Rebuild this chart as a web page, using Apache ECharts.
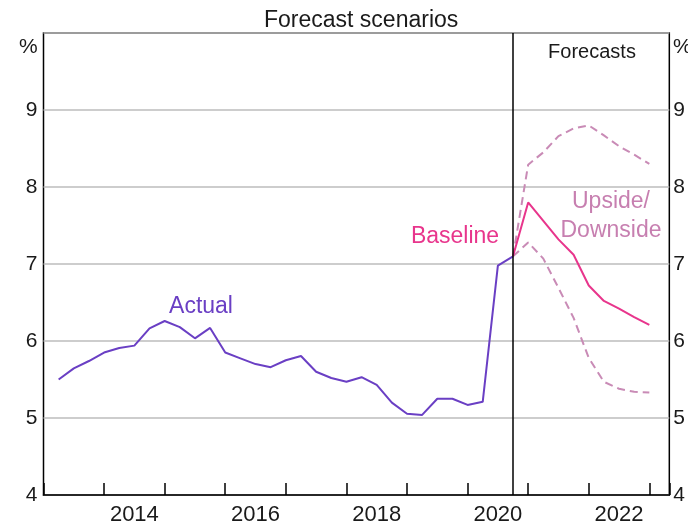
<!DOCTYPE html>
<html>
<head>
<meta charset="utf-8">
<script src="https://cdn.jsdelivr.net/npm/echarts@6/dist/echarts.min.js"></script>
<style>
  html, body { margin: 0; padding: 0; background: #fff; }
  #chart { width: 688px; height: 530px; }
</style>
</head>
<body>
<div id="chart"></div>
<script>
// ---- Data ----
const actualDates = [2013.25, 2013.5, 2013.75, 2014.0, 2014.25, 2014.5, 2014.75, 2015.0, 2015.25, 2015.5, 2015.75,
  2016.0, 2016.25, 2016.5, 2016.75, 2017.0, 2017.25, 2017.5, 2017.75, 2018.0, 2018.25, 2018.5, 2018.75,
  2019.0, 2019.25, 2019.5, 2019.75, 2020.0, 2020.25, 2020.5, 2020.75];
const actualValues = [5.50, 5.645, 5.74, 5.85, 5.91, 5.94, 6.165, 6.26, 6.18, 6.035, 6.17,
  5.85, 5.775, 5.70, 5.66, 5.75, 5.805, 5.60, 5.52, 5.47, 5.53, 5.43, 5.20,
  5.055, 5.04, 5.25, 5.25, 5.17, 5.21, 6.98, 7.10];

const forecastDates = [2020.75, 2021.0, 2021.25, 2021.5, 2021.75, 2022.0, 2022.25, 2022.5, 2022.75, 2023.0];
const baselineValues = [7.10, 7.80, 7.56, 7.32, 7.12, 6.72, 6.52, 6.42, 6.31, 6.21];
const upsideValues   = [7.10, 8.29, 8.45, 8.66, 8.76, 8.80, 8.67, 8.53, 8.42, 8.30];
const downsideValues = [7.10, 7.28, 7.07, 6.69, 6.30, 5.78, 5.47, 5.38, 5.34, 5.33];

const forecastStart = 2020.75;
const xLabels = ['2014', '2016', '2018', '2020', '2022'];
const yTicks = [4, 5, 6, 7, 8, 9];

// ---- Chart ----
const FONT = 'Liberation Sans, Arial, sans-serif';
const chart = echarts.init(document.getElementById('chart'), null, { renderer: 'canvas' });

const pair = (xs, ys) => xs.map((x, i) => [x, ys[i]]);
const labelPos = xLabels.map(s => Number(s) + 0.5);

const option = {
  animation: false,
  backgroundColor: '#ffffff',
  title: {
    text: 'Forecast scenarios',
    left: 259,
    top: 4,
    textStyle: { fontFamily: FONT, fontSize: 23, fontWeight: 'normal', color: '#1a1a1a' }
  },
  grid: {
    left: 43.5, right: 18, top: 33, bottom: 35,
    show: true, borderColor: '#000', borderWidth: 1.5, backgroundColor: 'transparent'
  },
  xAxis: {
    type: 'value',
    min: 2013,
    max: 2023.33,
    interval: 1,
    axisLine: { show: true, lineStyle: { color: '#000', width: 1.5 } },
    axisTick: { show: true, inside: true, length: 12, lineStyle: { color: '#000', width: 1.5 } },
    splitLine: { show: false },
    axisLabel: {
      customValues: labelPos,
      formatter: v => {
        const k = labelPos.findIndex(p => Math.abs(p - v) < 1e-6);
        return k >= 0 ? xLabels[k] : '';
      },
      fontFamily: FONT, fontSize: 22, color: '#1a1a1a', margin: 9
    }
  },
  yAxis: [
    {
      type: 'value', position: 'left', min: 4, max: 10, interval: 1,
      axisLine: { show: false }, axisTick: { show: false },
      splitLine: { show: true, lineStyle: { color: '#bdbdbd', width: 1.5 } },
      axisLabel: {
        formatter: v => (yTicks.indexOf(v) >= 0 ? String(v) : ''),
        fontFamily: FONT, fontSize: 21, color: '#1a1a1a', margin: 6
      }
    },
    {
      type: 'value', position: 'right', min: 4, max: 10, interval: 1,
      axisLine: { show: false }, axisTick: { show: false },
      splitLine: { show: false },
      axisLabel: {
        formatter: v => (yTicks.indexOf(v) >= 0 ? String(v) : ''),
        fontFamily: FONT, fontSize: 21, color: '#1a1a1a', margin: 4
      }
    }
  ],
  series: [
    {
      name: 'Actual', type: 'line', data: pair(actualDates, actualValues),
      showSymbol: false, symbol: 'none',
      lineStyle: { color: '#6a3fc4', width: 2 },
      z: 3,
      markLine: {
        silent: true, symbol: ['none', 'none'], label: { show: false },
        lineStyle: { color: '#000', width: 1.5, type: 'solid' },
        data: [{ xAxis: forecastStart }]
      }
    },
    {
      name: 'Upside', type: 'line', data: pair(forecastDates, upsideValues),
      showSymbol: false, symbol: 'none',
      lineStyle: { color: '#c98bb6', width: 2, type: [8, 5] }, z: 2
    },
    {
      name: 'Downside', type: 'line', data: pair(forecastDates, downsideValues),
      showSymbol: false, symbol: 'none',
      lineStyle: { color: '#c98bb6', width: 2, type: [8, 5] }, z: 2
    },
    {
      name: 'Baseline', type: 'line', data: pair(forecastDates, baselineValues),
      showSymbol: false, symbol: 'none',
      lineStyle: { color: '#e8358c', width: 2 }, z: 4
    }
  ],
  graphic: [
    { type: 'text', left: 19, top: 37, style: { text: '%', font: '21px ' + FONT, fill: '#1a1a1a' } },
    { type: 'text', left: 673, top: 37, style: { text: '%', font: '21px ' + FONT, fill: '#1a1a1a' } },
    { type: 'text', x: 592, y: 52, style: { text: 'Forecasts', font: '20px ' + FONT, fill: '#1a1a1a', align: 'center', verticalAlign: 'middle' } },
    { type: 'text', x: 201, y: 307, style: { text: 'Actual', font: '23px ' + FONT, fill: '#6a3fc4', align: 'center', verticalAlign: 'middle' } },
    { type: 'text', x: 455, y: 237, style: { text: 'Baseline', font: '23px ' + FONT, fill: '#e8358c', align: 'center', verticalAlign: 'middle' } },
    { type: 'text', x: 611, y: 216, style: { text: 'Upside/\nDownside', font: '23px ' + FONT, fill: '#c77fb0', align: 'center', verticalAlign: 'middle', lineHeight: 29 } }
  ]
};
chart.setOption(option);
</script>
</body>
</html>
